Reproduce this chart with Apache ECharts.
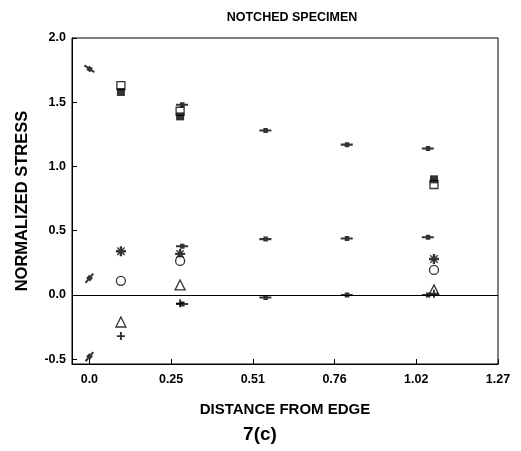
<!DOCTYPE html>
<html>
<head>
<meta charset="utf-8">
<script src="https://cdn.jsdelivr.net/npm/echarts@6/dist/echarts.min.js"></script>
<style>
  html, body { margin: 0; padding: 0; background: #fff; }
  #chart { width: 521px; height: 451px; }
</style>
</head>
<body>
<div id="chart"></div>
<script>
// tick positions (cm) and their printed labels
const xTickValues = [0, 0.254, 0.508, 0.762, 1.016, 1.27];
const xTickLabels = ['0.0', '0.25', '0.51', '0.76', '1.02', '1.27'];
const yTickValues = [-0.5, 0, 0.5, 1.0, 1.5, 2.0];

// experimental points
const expX = [0.098, 0.282, 1.071];
const openSquare = [1.63, 1.43, 0.86];
const filledSquare = [1.58, 1.39, 0.90];
const asterisk = [0.34, 0.32, 0.28];
const openCircle = [0.11, 0.265, 0.195];
const openTriangle = [-0.21, 0.078, 0.04];
const plusMark = [-0.32, -0.065, 0.01];

// analytical points (small dashes)
const anaX = [0.0, 0.288, 0.547, 0.80, 1.052];
const anaUpper = [1.76, 1.48, 1.28, 1.17, 1.14];
const anaMiddle = [0.13, 0.38, 0.435, 0.44, 0.45];
const anaLower = [-0.48, -0.07, -0.02, 0.0, 0.0];
const anaRotateHigh = [-35, 0, 0, 0, 0];
const anaRotateLow = [50, 0, 0, 0, 0];

const pair = (xs, ys) => xs.map((x, i) => [x, ys[i]]);

const asteriskPath = 'path://M3.8,0H6.2V2.9L8.3,0.8L9.2,1.7L7.1,3.8H10V6.2H7.1L9.2,8.3L8.3,9.2L6.2,7.1V10H3.8V7.1L1.7,9.2L0.8,8.3L2.9,6.2H0V3.8H2.9L0.8,1.7L1.7,0.8L3.8,2.9Z M2.5,2.5H7.5V7.5H2.5Z';
const plusPath = 'path://M3.8,0H6.2V3.8H10V6.2H6.2V10H3.8V6.2H0V3.8H3.8Z';
const dashPath = 'path://M0,4.3H12V5.7H0Z M4,3.3H8.5V6.7H4Z';

const expStyle = { color: '#fff', borderColor: '#000', borderWidth: 1.3 };
const font = 'Liberation Sans';

const anaSeries = (name, ys, rot) => ({
    name: name,
    type: 'scatter',
    symbol: dashPath,
    symbolSize: [12, 5],
    itemStyle: { color: '#000' },
    data: anaX.map((x, i) => ({ value: [x, ys[i]], symbolRotate: rot[i] })),
    z: 3
});

const chart = echarts.init(document.getElementById('chart'));
chart.setOption({
    animation: false,
    backgroundColor: '#fff',
    title: {
        text: 'NOTCHED SPECIMEN',
        left: 287,
        top: 6,
        textAlign: 'center',
        textStyle: { fontFamily: font, fontSize: 12.5, fontWeight: 'bold', color: '#000' }
    },
    graphic: [{
        type: 'text',
        x: 260,
        y: 425,
        style: { text: '7(c)', font: 'bold 19px "Liberation Sans"', fill: '#000', textAlign: 'center' }
    }],
    grid: {
        left: 72, top: 38, width: 426, height: 326,
        show: true, borderColor: '#000', borderWidth: 1, backgroundColor: 'transparent'
    },
    xAxis: {
        type: 'value',
        min: -0.054,
        max: 1.27,
        name: 'DISTANCE FROM EDGE',
        nameLocation: 'middle',
        nameGap: 38,
        nameTextStyle: { fontFamily: font, fontSize: 15, fontWeight: 'bold', color: '#000' },
        axisLine: { onZero: false, lineStyle: { color: '#000', width: 1 } },
        axisTick: { inside: true, length: 5, customValues: xTickValues, lineStyle: { color: '#000' } },
        axisLabel: {
            customValues: xTickValues,
            margin: 9,
            fontFamily: font, fontSize: 12.5, fontWeight: 'bold', color: '#000',
            formatter: v => xTickLabels[Math.round(v / 0.254)]
        },
        splitLine: { show: false }
    },
    yAxis: {
        type: 'value',
        min: -0.537,
        max: 2.0,
        name: 'NORMALIZED STRESS',
        nameLocation: 'middle',
        nameGap: 41,
        nameTextStyle: { fontFamily: font, fontSize: 16.5, fontWeight: 'bold', color: '#000' },
        axisLine: { onZero: false, lineStyle: { color: '#000', width: 1 } },
        axisTick: { inside: true, length: 5, customValues: yTickValues, lineStyle: { color: '#000' } },
        axisLabel: {
            customValues: yTickValues,
            margin: 6,
            fontFamily: font, fontSize: 12.5, fontWeight: 'bold', color: '#000',
            formatter: v => v.toFixed(1)
        },
        splitLine: { show: false }
    },
    series: [
        {
            name: 'zero',
            type: 'line',
            data: [],
            markLine: {
                silent: true,
                symbol: 'none',
                label: { show: false },
                lineStyle: { color: '#000', width: 1.2, type: 'solid' },
                data: [{ yAxis: 0 }]
            }
        },
        anaSeries('upper', anaUpper, anaRotateHigh),
        anaSeries('middle', anaMiddle, anaRotateLow),
        anaSeries('lower', anaLower, anaRotateLow),
        { name: 'open square', type: 'scatter', symbol: 'rect', symbolSize: [8, 8], itemStyle: expStyle, data: pair(expX, openSquare), z: 4 },
        { name: 'filled square', type: 'scatter', symbol: 'rect', symbolSize: [8, 8], itemStyle: { color: '#000' }, data: pair(expX, filledSquare), z: 5 },
        { name: 'asterisk', type: 'scatter', symbol: asteriskPath, symbolSize: 10, itemStyle: { color: '#000' }, data: pair(expX, asterisk), z: 4 },
        { name: 'circle', type: 'scatter', symbol: 'circle', symbolSize: 9, itemStyle: expStyle, data: pair(expX, openCircle), z: 5 },
        { name: 'triangle', type: 'scatter', symbol: 'triangle', symbolSize: 10, itemStyle: expStyle, data: pair(expX, openTriangle), z: 4 },
        { name: 'plus', type: 'scatter', symbol: plusPath, symbolSize: 8, itemStyle: { color: '#000' }, data: pair(expX, plusMark), z: 4 }
    ]
});
</script>
</body>
</html>
